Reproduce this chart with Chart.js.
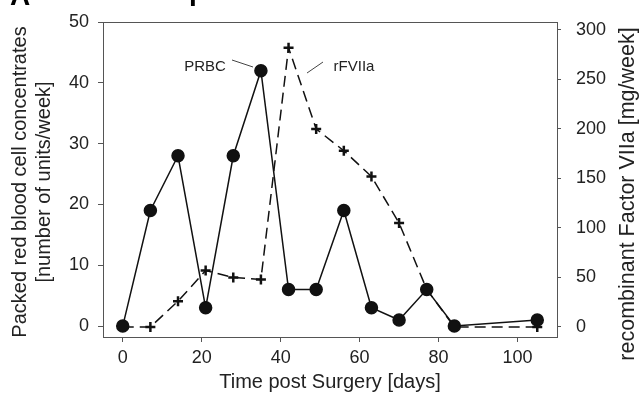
<!DOCTYPE html>
<html><head><meta charset="utf-8">
<script src="https://cdn.jsdelivr.net/npm/chart.js@4"></script>
<style>html,body{margin:0;padding:0;background:#fff}#wrap{width:641px;height:394px}</style>
</head><body><div id="wrap"><canvas id="c" width="641" height="394"></canvas></div>
<script>
const days = [0, 7, 14, 21, 28, 35, 42, 49, 56, 63, 70, 77, 84, 105];
const prbc = [0, 19, 28, 3, 28, 42, 6, 6, 19, 3, 1, 6, 0, 1];
const rfviia = [0, 0, 26, 57, 50, 48, 282, 200, 178, 152, 105, 38, 0, 0];
const xTicks = [0, 20, 40, 60, 80, 100];
const yLeftTicks = [0, 10, 20, 30, 40, 50];
const yRightTicks = [0, 50, 100, 150, 200, 250, 300];
const leftTitle = ['Packed red blood cell concentrates', '[number of units/week]'];
const rightTitle = 'recombinant Factor VIIa [mg/week]';
const FONT = "'Liberation Sans', Arial, sans-serif";
const AXC = '#555';
const TXT = '#222';

const extras = {
  id: 'extras',
  afterDraw(chart) {
    const ctx = chart.ctx, a = chart.chartArea;
    ctx.save();
    ctx.strokeStyle = AXC; ctx.lineWidth = 1;
    ctx.strokeRect(a.left + 0.5, a.top + 0.5, a.right - a.left, a.bottom - a.top);
    ctx.fillStyle = TXT; ctx.font = '15px ' + FONT;
    ctx.textBaseline = 'middle'; ctx.textAlign = 'center';
    ctx.fillText('PRBC', 205, 67);
    ctx.fillText('rFVIIa', 354, 67);
    ctx.strokeStyle = '#444'; ctx.lineWidth = 1;
    ctx.beginPath(); ctx.moveTo(232, 60); ctx.lineTo(253, 67);
    ctx.moveTo(323, 62); ctx.lineTo(307, 73); ctx.stroke();
    ctx.save();
    ctx.translate(20, 182); ctx.rotate(-Math.PI / 2);
    ctx.font = '20px ' + FONT; ctx.fillStyle = TXT;
    ctx.fillText(leftTitle[0], 0, 0);
    ctx.restore();
    ctx.save();
    ctx.translate(44, 182); ctx.rotate(-Math.PI / 2);
    ctx.font = '20px ' + FONT; ctx.fillStyle = TXT;
    ctx.fillText(leftTitle[1], 0, 0);
    ctx.restore();
    ctx.save();
    ctx.translate(628, 194); ctx.rotate(-Math.PI / 2);
    ctx.font = '21.5px ' + FONT; ctx.fillStyle = TXT;
    ctx.fillText(rightTitle, 0, 0);
    ctx.restore();
    ctx.fillStyle = '#000'; ctx.font = 'bold 28px ' + FONT;
    ctx.textAlign = 'left'; ctx.textBaseline = 'alphabetic';
    ctx.fillText('A', 10, 5);
    ctx.fillText('p', 189, 0);
    ctx.restore();
  }
};

function fixTicks(list) { return function(axis){ axis.ticks = list.map(v => ({value: v})); }; }
function fitV(w) { return function(s){ s.width = w; s.paddingTop = 0; s.paddingBottom = 0; }; }

new Chart(document.getElementById('c'), {
  type: 'line',
  data: {
    labels: days,
    datasets: [
      { label: 'PRBC', data: days.map((d,i)=>({x:d,y:prbc[i]})), yAxisID: 'y',
        borderColor: '#111', backgroundColor: '#111', borderWidth: 1.5,
        pointStyle: 'circle', pointRadius: 6, pointBackgroundColor: '#111', pointBorderColor: '#111', tension: 0 },
      { label: 'rFVIIa', data: days.map((d,i)=>({x:d,y:rfviia[i]})), yAxisID: 'y1',
        borderColor: '#111', backgroundColor: '#111', borderWidth: 1.5, borderDash: [11, 6],
        pointStyle: 'cross', pointRadius: 5, pointBorderWidth: 2.5, pointBorderColor: '#111', tension: 0 }
    ]
  },
  options: {
    responsive: false, animation: false, devicePixelRatio: 1,
    layout: { padding: { top: 22, left: 0, right: 0, bottom: 0 } },
    plugins: { legend: { display: false }, tooltip: { enabled: false } },
    scales: {
      x: { type: 'linear', min: -5, max: 110,
        afterBuildTicks: fixTicks(xTicks),
        afterFit(s){ s.height = 57; s.paddingLeft = 0; s.paddingRight = 0; },
        grid: { drawOnChartArea: false, color: AXC, tickLength: 5 },
        border: { color: AXC },
        ticks: { color: TXT, font: { family: FONT, size: 18 }, padding: 5 },
        title: { display: true, text: 'Time post Surgery [days]', color: TXT, font: { family: FONT, size: 20 }, padding: { top: 0, bottom: 0 } } },
      y: { type: 'linear', position: 'left', min: -1.8, max: 50,
        afterBuildTicks: fixTicks(yLeftTicks),
        afterFit: fitV(103),
        grid: { drawOnChartArea: false, color: AXC, tickLength: 5 },
        border: { color: AXC },
        ticks: { color: TXT, font: { family: FONT, size: 18 }, padding: 9 },
        title: { display: false } },
      y1: { type: 'linear', position: 'right', min: -10.1, max: 308,
        afterBuildTicks: fixTicks(yRightTicks),
        afterFit: fitV(84),
        grid: { drawOnChartArea: false, color: AXC, tickLength: 4 },
        border: { color: AXC },
        ticks: { color: TXT, font: { family: FONT, size: 18 }, padding: 15 },
        title: { display: false } }
    }
  },
  plugins: [extras]
});
</script></body></html>
